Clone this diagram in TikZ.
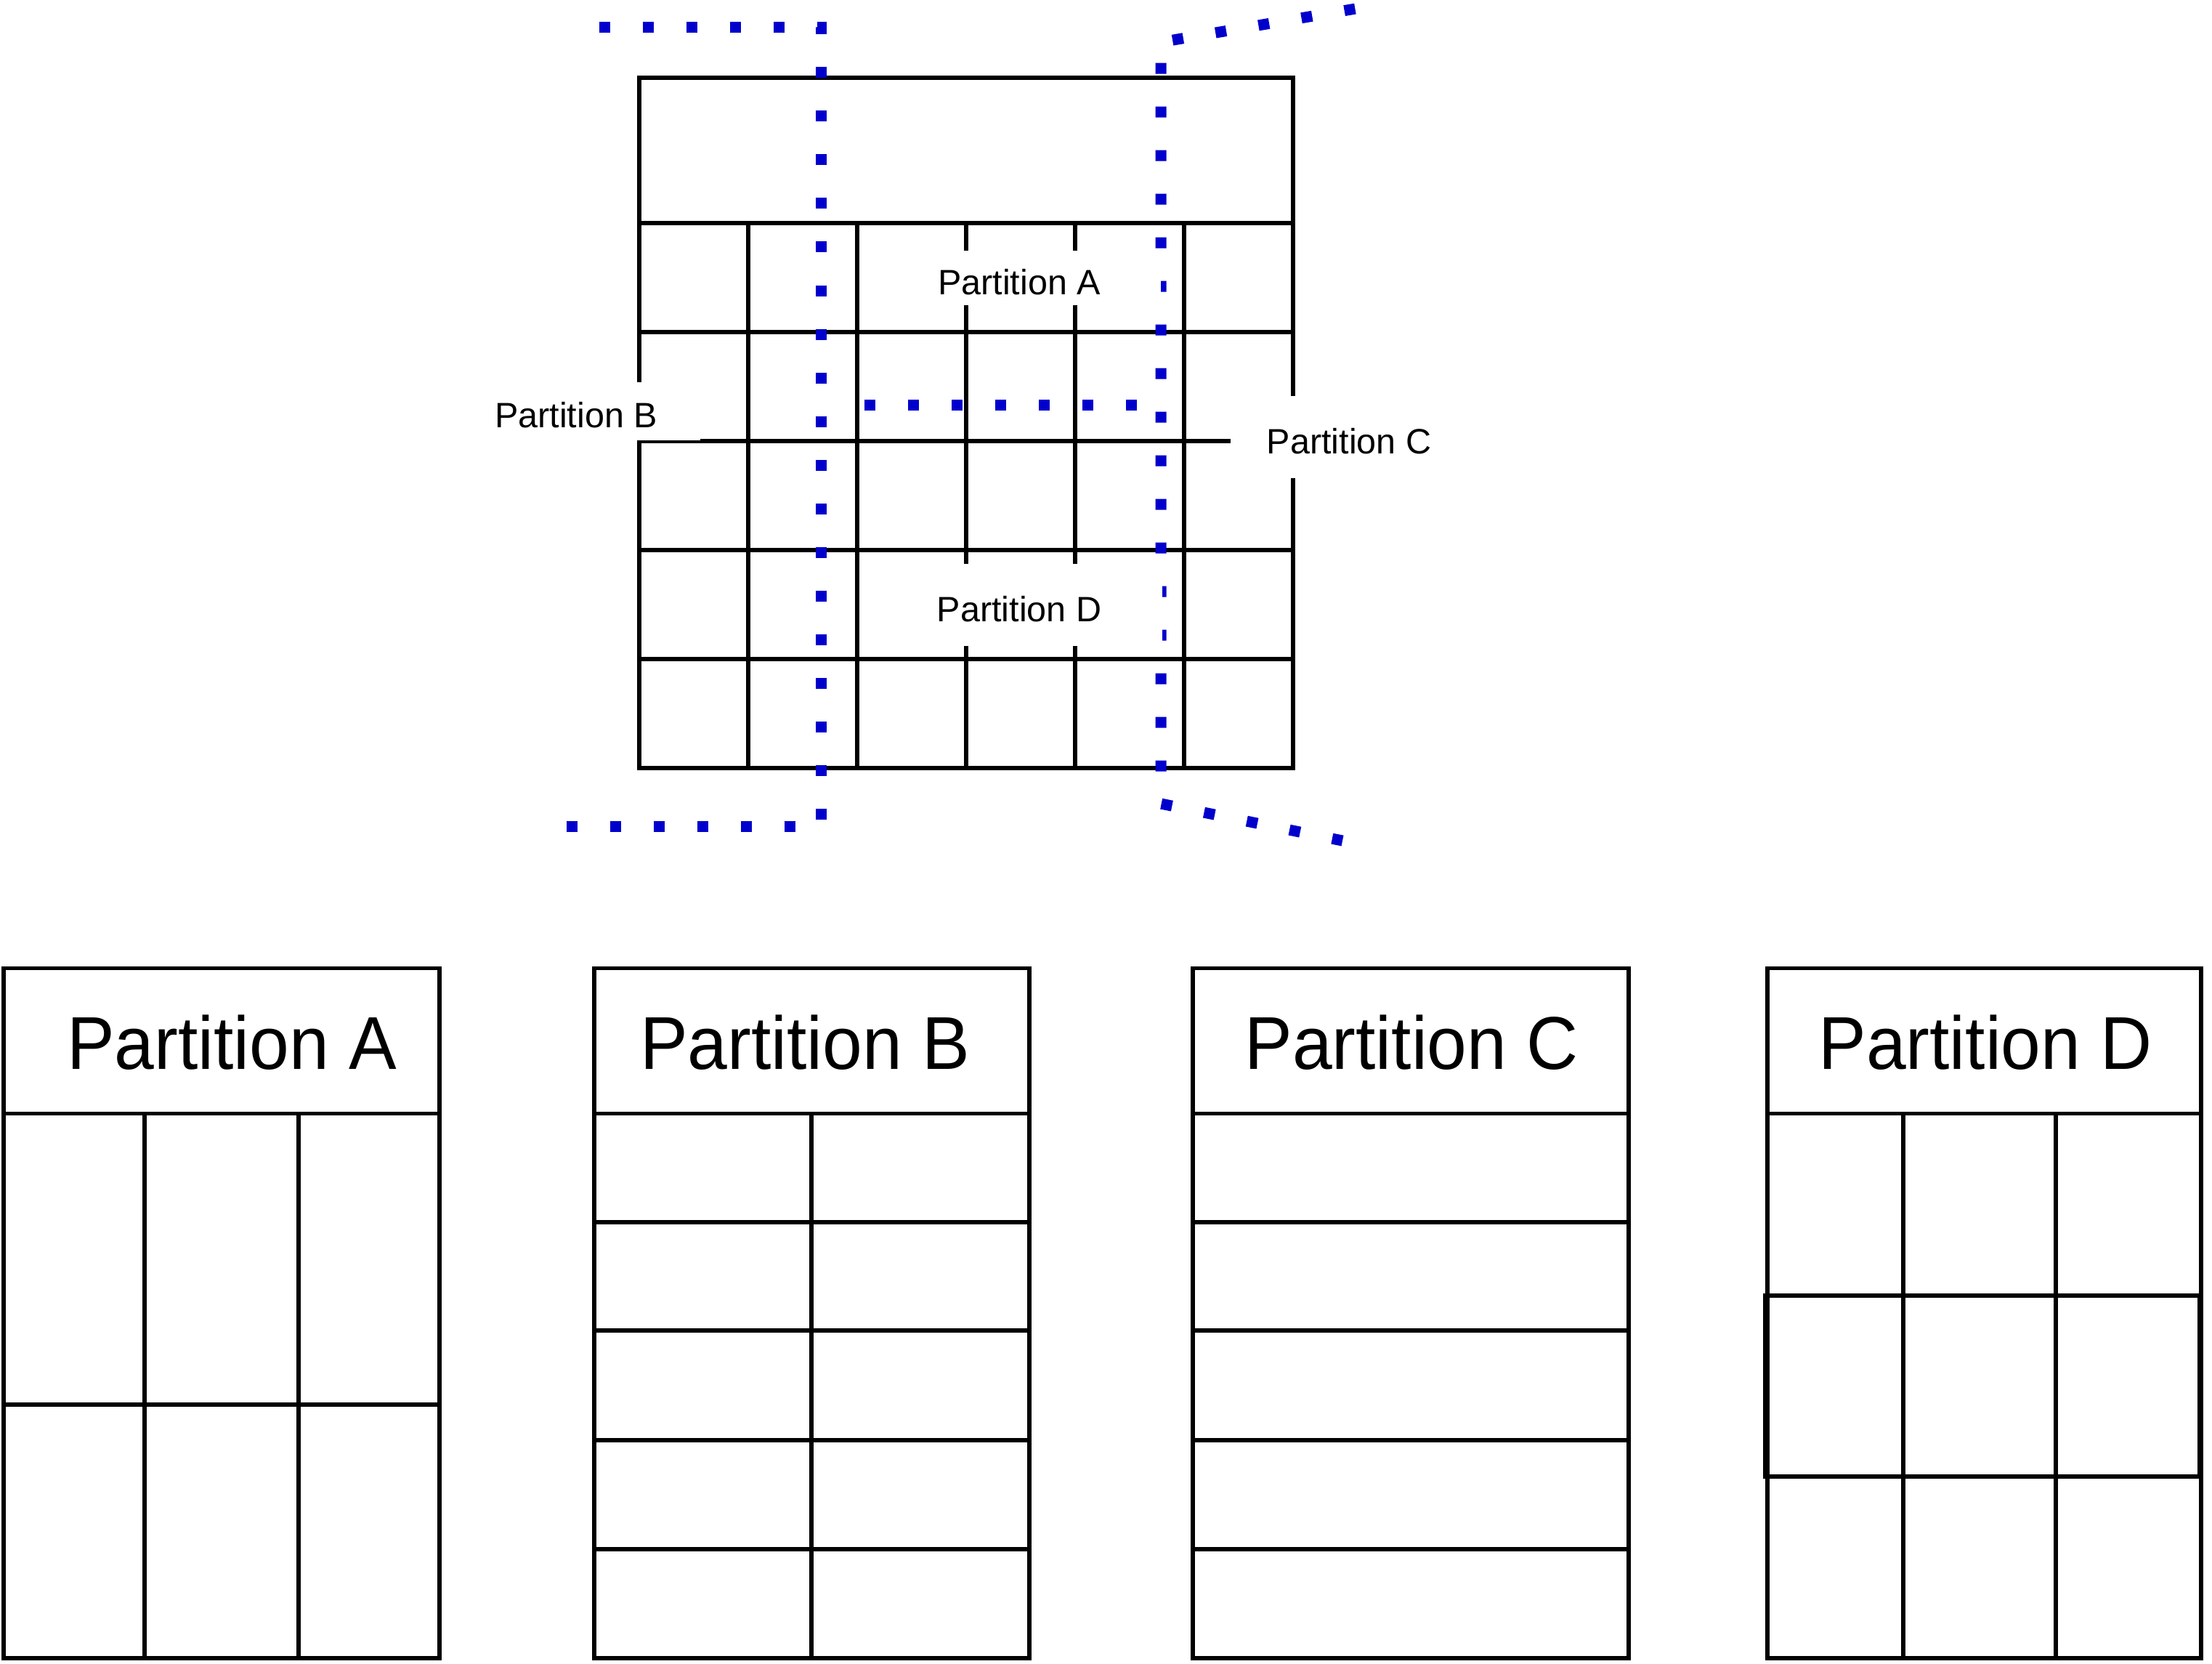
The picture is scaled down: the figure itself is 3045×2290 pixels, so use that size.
\documentclass[tikz,border=0pt]{standalone}
\usepackage{fontspec}
\setmainfont{Liberation Sans}
\newfontfamily\bigfont[FakeStretch=0.955]{Liberation Sans}
\definecolor{dotblue}{RGB}{0,0,204}
\tikzset{
  gridln/.style={line width=5.2pt, draw=black},
  partdots/.style={draw=dotblue, line width=15pt, dash pattern=on 15pt off 45pt, line cap=butt},
  toplbl/.style={fill=white, inner sep=0pt, font=\fontsize{48.5}{58}\selectfont, text height=45pt, text depth=0pt},
  bigtitle/.style={inner sep=0pt, anchor=base, font=\bigfont\fontsize{103}{124}\selectfont},
}
\begin{document}
\begin{tikzpicture}[x=1pt,y=-1pt]
\useasboundingbox (0,0) rectangle (3045,2290);

% ---------- top table ----------
\draw[gridln] (880,107) rectangle (1780,1057);
\foreach \y in {307,457,607,757,907} \draw[gridln] (880,\y) -- (1780,\y);
\foreach \x in {1030,1180,1330,1480,1630} \draw[gridln] (\x,307) -- (\x,1057);

% ---------- partition boundaries ----------
\coordinate (l1) at (825,37.5);
\coordinate (l2) at (1130,37.5);
\coordinate (l3) at (1130,1137.5);
\coordinate (l4) at (780,1137.5);
\draw[partdots] (l1) -- (l2) -- (l3) -- (l4);

\coordinate (r1) at (1865.4,12.1);
\coordinate (r2) at (1598,58);
\coordinate (r3) at (1598,1106);
\coordinate (r4) at (1848,1157);
\draw[partdots] (r1) -- (r2) -- (r3) -- (r4);

\coordinate (m1) at (1190,557);
\coordinate (m2) at (1598,557);
\draw[partdots] (m1) -- (m2);

% ---------- labels in the table ----------
\node[toplbl, minimum width=390pt, minimum height=75pt] (labA) at (1403,382.5) {Partition A};
\node[toplbl, minimum width=342pt, minimum height=80pt] (labB) at (793,566) {Partition B};
\node[toplbl, minimum width=326pt, minimum height=113pt] (labC) at (1857,601.5) {Partition C};
\node[toplbl, minimum width=394pt, minimum height=113pt] (labD) at (1403,832.5) {Partition D};

% ---------- Partition A table ----------
\draw[gridln] (5,1332.5) rectangle (605,2282);
\draw[gridln] (5,1532.5) -- (605,1532.5);
\draw[gridln] (5,1933) -- (605,1933);
\draw[gridln] (199,1532.5) -- (199,2282);
\draw[gridln] (411,1532.5) -- (411,2282);
\node[bigtitle] (tA) at (319,1471.5) {Partition A};

% ---------- Partition B table ----------
\draw[gridln] (818,1332.5) rectangle (1417,2282);
\foreach \y in {1532.5,1682,1831,1982,2132} \draw[gridln] (818,\y) -- (1417,\y);
\draw[gridln] (1117,1532.5) -- (1117,2282);
\node[bigtitle] (tB) at (1108,1471.5) {Partition B};

% ---------- Partition C table ----------
\draw[gridln] (1642,1332.5) rectangle (2242,2282);
\foreach \y in {1532.5,1682,1831,1982,2132} \draw[gridln] (1642,\y) -- (2242,\y);
\node[bigtitle] (tC) at (1943,1471.5) {Partition C};

% ---------- Partition D table ----------
\draw[gridln] (2433,1332.5) rectangle (3030,2282);
\draw[gridln] (2433,1532.5) -- (3030,1532.5);
\draw[gridln] (2620,1532.5) -- (2620,2282);
\draw[gridln] (2830,1532.5) -- (2830,2282);
\draw[gridln] (2430,1783) rectangle (3028,2032);
\node[bigtitle] (tD) at (2733,1471.5) {Partition D};
\end{tikzpicture}
\end{document}
